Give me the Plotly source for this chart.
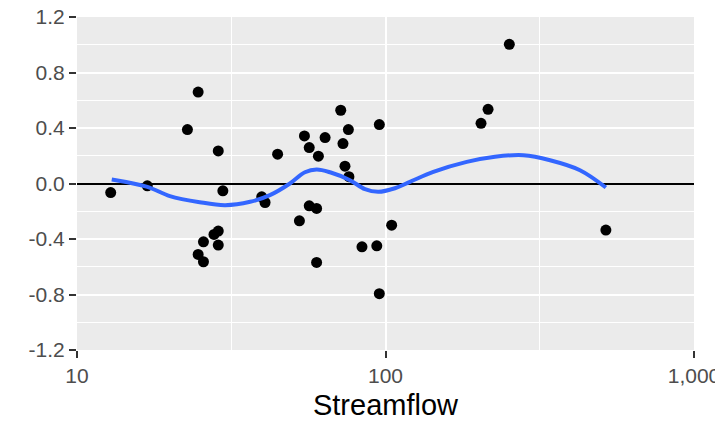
import plotly.graph_objects as go

# Observed points
streamflow = [12.86, 16.9, 22.8, 24.7, 28.7, 29.7, 28.7, 27.8, 28.7, 25.7, 24.7, 25.7,
              39.7, 40.7, 44.7, 54.6, 56.6, 60.6, 63.7, 71.6, 75.8, 72.8, 73.9, 76.1,
              56.6, 59.8, 52.6, 59.8, 83.9, 93.7, 95.5, 104.7, 95.5, 204, 215, 252, 518]
residual = [-0.065, -0.017, 0.389, 0.659, 0.235, -0.053, -0.343, -0.367, -0.444, -0.420, -0.511, -0.564,
            -0.096, -0.137, 0.211, 0.343, 0.259, 0.197, 0.331, 0.528, 0.389, 0.288, 0.125, 0.049,
            -0.161, -0.180, -0.269, -0.569, -0.456, -0.449, -0.794, -0.300, 0.425, 0.434, 0.535, 1.003, -0.336]

# Smooth curve
smooth_x = [12.96, 16.9, 20.0, 25.0, 30.2, 36.4, 42.2, 49.0, 54.8, 59.8, 66.1, 76.7, 85.8,
            94.8, 107.3, 120, 142.9, 183.4, 226.5, 279.8, 341.5, 427, 518]
smooth_y = [0.029, -0.024, -0.091, -0.135, -0.156, -0.132, -0.084, 0.0, 0.081, 0.101, 0.081, 0.024, -0.041,
            -0.060, -0.034, 0.012, 0.084, 0.156, 0.193, 0.204, 0.168, 0.096, -0.029]

x_tick_vals = [10, 100, 1000]
x_tick_text = ["10", "100", "1,000"]
x_minor_vals = [31.62, 316.2]
y_tick_vals = [-1.2, -0.8, -0.4, 0.0, 0.4, 0.8, 1.2]
y_tick_text = ["-1.2", "-0.8", "-0.4", "0.0", "0.4", "0.8", "1.2"]
y_minor_vals = [-1.0, -0.6, -0.2, 0.2, 0.6, 1.0]

fig = go.Figure()
fig.add_trace(go.Scatter(x=streamflow, y=residual, mode="markers",
                         marker=dict(color="black", size=11), showlegend=False))
fig.add_trace(go.Scatter(x=smooth_x, y=smooth_y, mode="lines",
                         line=dict(color="#3366FF", width=4, shape="spline"), showlegend=False))

font_family = "Liberation Sans, Arial, sans-serif"
fig.update_layout(
    width=715, height=425, autosize=False,
    margin=dict(l=77, r=21, t=17, b=75, autoexpand=False),
    paper_bgcolor="white", plot_bgcolor="#EBEBEB",
    font=dict(family=font_family, color="#4D4D4D"),
    showlegend=False,
)
fig.update_xaxes(
    type="log", range=[1, 3], automargin=False,
    tickmode="array", tickvals=x_tick_vals, ticktext=x_tick_text,
    ticks="outside", ticklen=7, tickwidth=2, tickcolor="#333333",
    tickfont=dict(size=21, color="#4D4D4D"),
    ticklabeloverflow="allow",
    showgrid=True, gridcolor="white", gridwidth=2,
    minor=dict(tickvals=x_minor_vals, showgrid=True, gridcolor="white", gridwidth=1, ticks=""),
    zeroline=False, showline=False,
    title=dict(text="Streamflow", font=dict(size=29, color="black"), standoff=8),
)
fig.update_yaxes(
    range=[-1.2, 1.2], automargin=False,
    tickmode="array", tickvals=y_tick_vals, ticktext=y_tick_text,
    ticks="outside", ticklen=7, tickwidth=2, tickcolor="#333333",
    tickfont=dict(size=21, color="#4D4D4D"),
    ticklabeloverflow="allow",
    showgrid=True, gridcolor="white", gridwidth=2,
    minor=dict(tickvals=y_minor_vals, showgrid=True, gridcolor="white", gridwidth=1, ticks=""),
    zeroline=True, zerolinecolor="black", zerolinewidth=1.6, showline=False,
)
fig.write_html("out.html",
               config={"displayModeBar": False},
               post_script="document.body.style.margin='0';document.body.style.overflow='hidden';")
